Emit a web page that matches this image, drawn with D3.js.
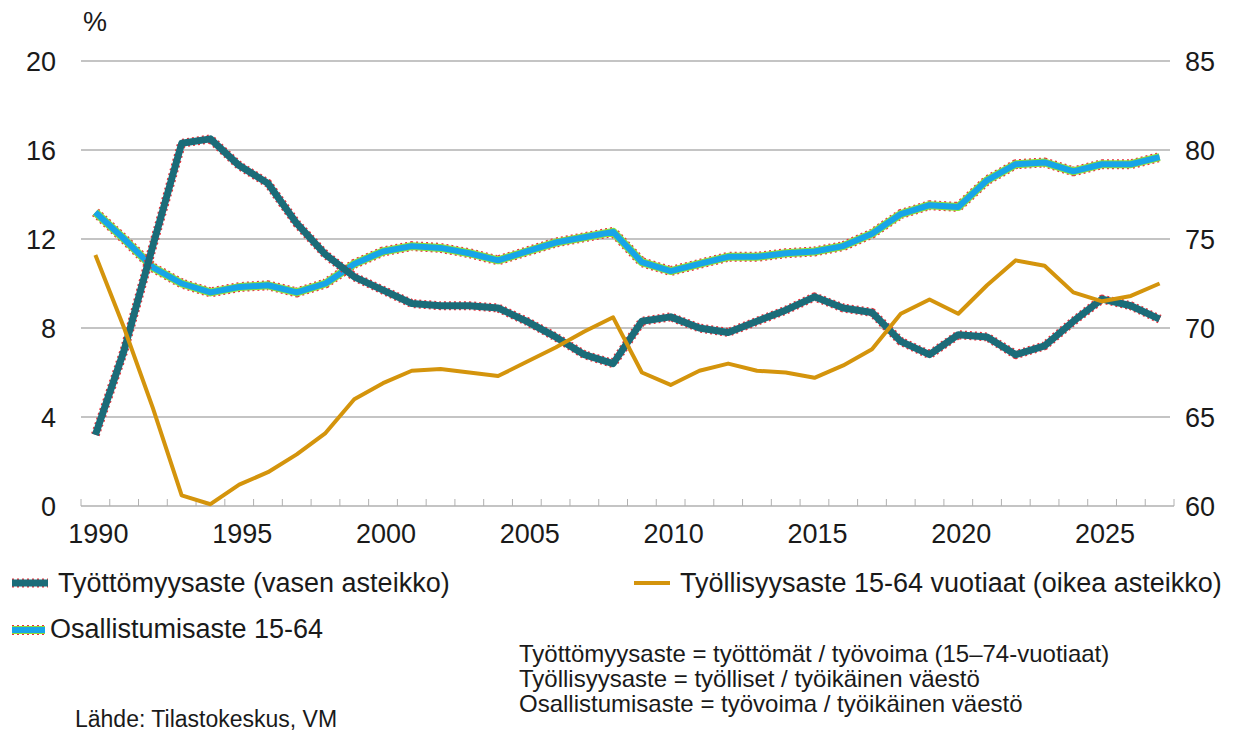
<!DOCTYPE html>
<html>
<head>
<meta charset="utf-8">
<script src="https://cdn.jsdelivr.net/npm/d3@7"></script>
<style>
  body { margin: 0; background: #fff; }
  text { font-family: "Liberation Sans", Arial, sans-serif; fill: #1a1a1a; }
</style>
</head>
<body>
<div id="chart"></div>
<script>
var years = d3.range(1990, 2028);

// Työttömyysaste, % (left axis)
var unemployment = [3.2, 7.0, 11.7, 16.3, 16.5, 15.3, 14.5, 12.7, 11.3, 10.3,
  9.7, 9.1, 9.0, 9.0, 8.9, 8.3, 7.6, 6.8, 6.4, 8.3,
  8.5, 8.0, 7.8, 8.3, 8.8, 9.4, 8.9, 8.7, 7.4, 6.8,
  7.7, 7.6, 6.8, 7.2, 8.3, 9.3, 9.0, 8.4];

// Työllisyysaste 15-64, % (right axis)
var employment = [74.1, 70.0, 65.5, 60.6, 60.1, 61.2, 61.9, 62.9, 64.1, 66.0,
  66.9, 67.6, 67.7, 67.5, 67.3, 68.1, 68.9, 69.8, 70.6, 67.5,
  66.8, 67.6, 68.0, 67.6, 67.5, 67.2, 67.9, 68.8, 70.8, 71.6,
  70.8, 72.4, 73.8, 73.5, 72.0, 71.5, 71.8, 72.5];

// Osallistumisaste 15-64, % (right axis)
var participation = [76.5, 75.0, 73.4, 72.5, 72.0, 72.3, 72.4, 72.0, 72.5, 73.6,
  74.3, 74.6, 74.5, 74.2, 73.8, 74.3, 74.8, 75.1, 75.4, 73.7,
  73.2, 73.6, 74.0, 74.0, 74.2, 74.3, 74.6, 75.3, 76.4, 76.9,
  76.8, 78.3, 79.2, 79.3, 78.8, 79.2, 79.2, 79.6];

var leftTicks = [0, 4, 8, 12, 16, 20];
var rightTicks = [60, 65, 70, 75, 80, 85];
var labelYears = [1990, 1995, 2000, 2005, 2010, 2015, 2020, 2025];

var w = 1239, h = 731;
var mLeft = 81, mRight = 1174, mTop = 61, mBottom = 506;

var svg = d3.select("#chart").append("svg")
  .attr("width", w)
  .attr("height", h);

var x = d3.scaleBand()
  .domain(years)
  .range([mLeft, mRight])
  .padding(0);

var xc = function(d) { return x(d) + x.bandwidth() / 2; };

var yL = d3.scaleLinear().domain([0, 20]).range([mBottom, mTop]);
var yR = d3.scaleLinear().domain([60, 85]).range([mBottom, mTop]);

// gridlines
svg.append("g")
  .selectAll("line")
  .data(leftTicks.filter(function(d) { return d > 0; }))
  .enter()
  .append("line")
  .attr("x1", mLeft)
  .attr("x2", mRight - 4)
  .attr("y1", function(d) { return yL(d); })
  .attr("y2", function(d) { return yL(d); })
  .attr("stroke", "#c4c4c4")
  .attr("stroke-width", 2);

// left axis labels
svg.append("g")
  .selectAll("text")
  .data(leftTicks)
  .enter()
  .append("text")
  .attr("x", 56)
  .attr("y", function(d) { return yL(d) + 10; })
  .attr("text-anchor", "end")
  .attr("font-size", 27)
  .text(function(d) { return d; });

// right axis labels
svg.append("g")
  .selectAll("text")
  .data(rightTicks)
  .enter()
  .append("text")
  .attr("x", 1185)
  .attr("y", function(d) { return yR(d) + 10; })
  .attr("font-size", 27)
  .text(function(d) { return d; });

svg.append("text")
  .attr("x", 83)
  .attr("y", 31)
  .attr("font-size", 27)
  .text("%");

// x axis: line, ticks between categories, year labels
var xAxis = svg.append("g");
xAxis.append("line")
  .attr("x1", mLeft).attr("x2", mRight)
  .attr("y1", mBottom).attr("y2", mBottom)
  .attr("stroke", "#c4c4c4")
  .attr("stroke-width", 2);

xAxis.selectAll("line.tick")
  .data(years.concat([2028]))
  .enter()
  .append("line")
  .attr("class", "tick")
  .attr("x1", function(d) { return d === 2028 ? mRight : x(d); })
  .attr("x2", function(d) { return d === 2028 ? mRight : x(d); })
  .attr("y1", mBottom)
  .attr("y2", mBottom - 7)
  .attr("stroke", "#b0b0b0")
  .attr("stroke-width", 1);

xAxis.selectAll("text")
  .data(labelYears)
  .enter()
  .append("text")
  .attr("x", function(d) { return xc(d) + 3; })
  .attr("y", 543)
  .attr("text-anchor", "middle")
  .attr("font-size", 27)
  .text(function(d) { return d; });

// lines
var lineL = d3.line()
  .x(function(d, i) { return xc(years[i]); })
  .y(function(d) { return yL(d); });

var lineR = d3.line()
  .x(function(d, i) { return xc(years[i]); })
  .y(function(d) { return yR(d); });

function drawLayers(g, path, layers) {
  layers.forEach(function(l) {
    g.append("path")
      .attr("d", path)
      .attr("fill", "none")
      .attr("stroke", l.color)
      .attr("stroke-width", l.width)
      .attr("stroke-dasharray", l.dash || null)
      .attr("stroke-linejoin", "round");
  });
}

var partLayers = [
  { color: "#e8323c", width: 10, dash: "2,3" },
  { color: "#8ee03a", width: 8 },
  { color: "#17a5e8", width: 6 }
];
var unempLayers = [
  { color: "#e8323c", width: 9, dash: "2,3" },
  { color: "#1b6c79", width: 7 }
];

drawLayers(svg.append("g"), lineR(participation), partLayers);
drawLayers(svg.append("g"), lineL(unemployment), unempLayers);

svg.append("path")
  .attr("d", lineR(employment))
  .attr("fill", "none")
  .attr("stroke", "#d4940c")
  .attr("stroke-width", 4)
  .attr("stroke-linejoin", "round");

// legend
function legendSymbol(x1, x2, y, layers) {
  var g = svg.append("g");
  drawLayers(g, "M" + x1 + "," + y + "L" + x2 + "," + y, layers);
}

legendSymbol(12, 48, 583, unempLayers);
svg.append("text").attr("x", 58).attr("y", 592).attr("font-size", 27)
  .text("Työttömyysaste (vasen asteikko)");

svg.append("line")
  .attr("x1", 634).attr("x2", 670)
  .attr("y1", 583).attr("y2", 583)
  .attr("stroke", "#d4940c")
  .attr("stroke-width", 4);
svg.append("text").attr("x", 680).attr("y", 592).attr("font-size", 27)
  .text("Työllisyysaste 15-64 vuotiaat (oikea asteikko)");

legendSymbol(12, 45, 630, partLayers);
svg.append("text").attr("x", 50).attr("y", 638).attr("font-size", 27)
  .text("Osallistumisaste 15-64");

// notes
var notes = [
  "Työttömyysaste = työttömät / työvoima (15–74-vuotiaat)",
  "Työllisyysaste = työlliset / työikäinen väestö",
  "Osallistumisaste = työvoima / työikäinen väestö"
];
svg.append("g")
  .selectAll("text")
  .data(notes)
  .enter()
  .append("text")
  .attr("x", 519)
  .attr("y", function(d, i) { return 662 + i * 25; })
  .attr("font-size", 24)
  .text(function(d) { return d; });

svg.append("text")
  .attr("x", 75)
  .attr("y", 727)
  .attr("font-size", 23)
  .text("Lähde: Tilastokeskus, VM");
</script>
</body>
</html>
